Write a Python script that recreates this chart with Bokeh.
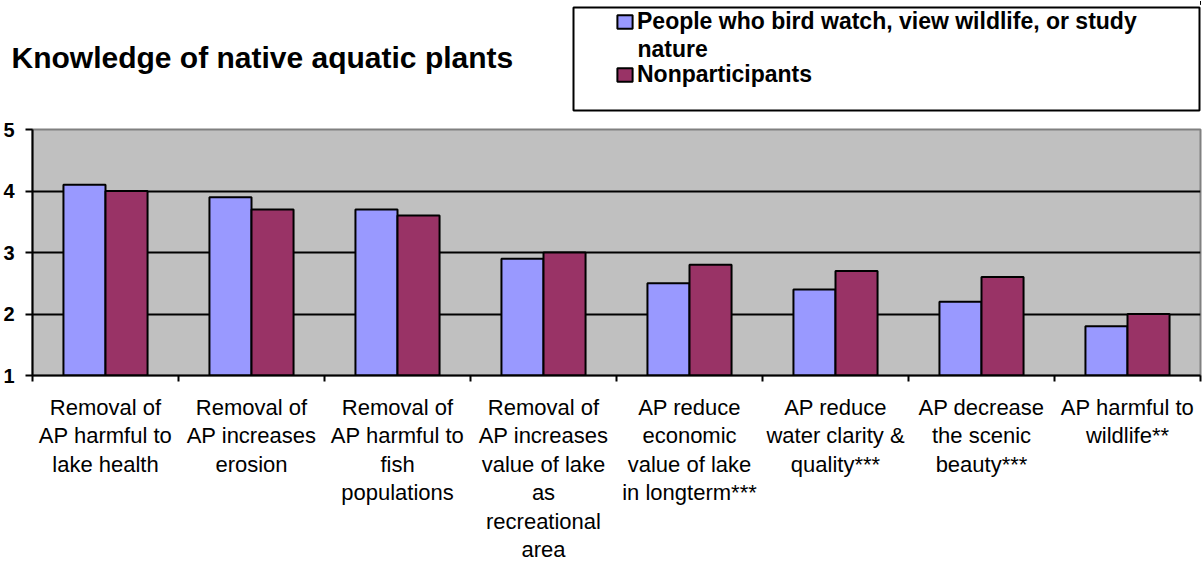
from bokeh.plotting import figure
from bokeh.models import (ColumnDataSource, Range1d, FixedTicker, Legend,
                          LegendItem, BoxAnnotation, Label)
from bokeh.layouts import column
from bokeh.transform import dodge
from bokeh.embed import file_html
from bokeh.resources import INLINE

# ---- data ----
categories = [
    "Removal of\nAP harmful to\nlake health",
    "Removal of\nAP increases\nerosion",
    "Removal of\nAP harmful to\nfish\npopulations",
    "Removal of\nAP increases\nvalue of lake\nas\nrecreational\narea",
    "AP reduce\neconomic\nvalue of lake\nin longterm***",
    "AP reduce\nwater clarity &\nquality***",
    "AP decrease\nthe scenic\nbeauty***",
    "AP harmful to\nwildlife**",
]
# first series name is wrapped over two lines in the legend
series_names = [["People who bird watch, view wildlife, or study", "nature"],
                ["Nonparticipants"]]
bird_watchers = [4.1, 3.9, 3.7, 2.9, 2.5, 2.4, 2.2, 1.8]
nonparticipants = [4.0, 3.7, 3.6, 3.0, 2.8, 2.7, 2.6, 2.0]
y_ticks = [1, 2, 3, 4, 5]
title_text = "Knowledge of native aquatic plants"

FONT = "Liberation Sans"
BLUE = "#9999FF"
PLUM = "#993366"
W = 1201
HEAD_H = 112

centers = [i + 0.5 for i in range(len(categories))]
boundaries = list(range(len(categories) + 1))
src = ColumnDataSource(dict(x=centers, bird=bird_watchers, non=nonparticipants))

# ================= header: title + legend =================
h = figure(width=W, height=HEAD_H, x_range=Range1d(0, W), y_range=Range1d(HEAD_H, 0),
           output_backend="svg", toolbar_location=None, min_border=0,
           x_axis_location=None, y_axis_location=None,
           outline_line_color=None, background_fill_color="white",
           border_fill_color="white")
h.frame_align = False
h.grid.visible = False

h.add_layout(Label(x=11, y=57, text=title_text, text_font=FONT,
                   text_font_size="30px", text_font_style="bold",
                   text_color="black", text_baseline="middle", text_align="left"))

h.add_layout(BoxAnnotation(left=573, right=1199, top=7, bottom=110,
                           fill_color="white", fill_alpha=1,
                           line_color="black", line_width=2, line_alpha=1))

# legend proxies: same data, drawn on an x range that places them off-canvas
h.extra_x_ranges = {"hidden": Range1d(-20, -10)}
k1 = h.vbar(x="x", top="bird", bottom=1, width=0.288, source=src,
            x_range_name="hidden",
            fill_color=BLUE, line_color="black", line_width=2)
k2 = h.vbar(x="x", top="non", bottom=1, width=0.288, source=src,
            x_range_name="hidden",
            fill_color=PLUM, line_color="black", line_width=2)

LEG_FS = "23px"
common = dict(border_line_color=None, background_fill_alpha=0,
              padding=0, margin=0, spacing=0,
              glyph_width=19, glyph_height=17, label_standoff=3,
              label_text_font=FONT, label_text_font_size=LEG_FS,
              label_text_font_style="bold", label_text_color="black",
              label_text_line_height=1.0)
h.add_layout(Legend(items=[LegendItem(label=series_names[0][0], renderers=[k1])],
                    location=(615, HEAD_H - 35), **common))
h.add_layout(Label(x=637, y=48, text=series_names[0][1], text_font=FONT,
                   text_font_size=LEG_FS, text_font_style="bold",
                   text_color="black", text_baseline="middle", text_align="left"))
h.add_layout(Legend(items=[LegendItem(label=series_names[1][0], renderers=[k2])],
                    location=(615, HEAD_H - 88), **common))

# ================= main chart =================
p = figure(frame_width=1168, frame_height=246,
           x_range=Range1d(0, len(categories)), y_range=Range1d(1, 5),
           output_backend="svg", toolbar_location=None,
           min_border_left=31, min_border_right=2,
           min_border_top=129 - HEAD_H, min_border_bottom=183,
           background_fill_color="#C0C0C0", border_fill_color="white")
p.frame_align = False

p.vbar(x=dodge("x", -0.144), top="bird", bottom=1, width=0.288, source=src,
       fill_color=BLUE, line_color="black", line_width=2)
p.vbar(x=dodge("x", 0.144), top="non", bottom=1, width=0.288, source=src,
       fill_color=PLUM, line_color="black", line_width=2)

p.outline_line_color = "#808080"
p.outline_line_width = 2
p.xgrid.visible = False
p.ygrid.ticker = FixedTicker(ticks=y_ticks[1:-1])
p.ygrid.grid_line_color = "black"
p.ygrid.grid_line_width = 2

ya = p.yaxis[0]
ya.ticker = FixedTicker(ticks=y_ticks)
ya.major_label_text_font = FONT
ya.major_label_text_font_size = "20px"
ya.major_label_text_font_style = "bold"
ya.major_label_text_color = "black"
ya.major_tick_out = 7
ya.major_tick_in = 0
ya.minor_tick_out = 0
ya.minor_tick_in = 0
ya.major_tick_line_width = 2
ya.major_tick_line_color = "black"
ya.axis_line_width = 2
ya.axis_line_color = "black"
ya.major_label_standoff = 11

xa = p.xaxis[0]
xa.ticker = FixedTicker(ticks=centers, minor_ticks=boundaries)
xa.major_label_overrides = {c: lab for c, lab in zip(centers, categories)}
xa.major_tick_out = 0
xa.major_tick_in = 0
xa.minor_tick_out = 6
xa.minor_tick_in = 0
xa.minor_tick_line_color = "black"
xa.minor_tick_line_width = 2
xa.axis_line_width = 2
xa.axis_line_color = "black"
xa.major_label_text_font = FONT
xa.major_label_text_font_size = "22px"
xa.major_label_text_color = "black"
xa.major_label_text_line_height = 1.14
xa.major_label_standoff = 13
xa.major_label_orientation = "horizontal"

layout = column(h, p, spacing=0)
open("out.html", "w").write(file_html(layout, INLINE))
